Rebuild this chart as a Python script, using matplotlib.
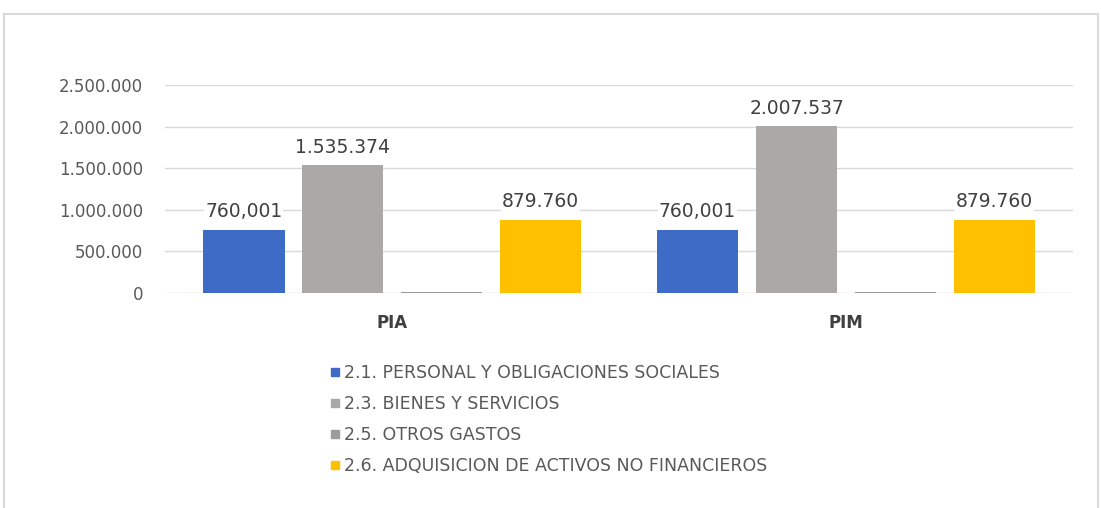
import matplotlib.pyplot as plt
from matplotlib.lines import Line2D
import numpy as np

# Data
categories = ["PIA", "PIM"]
series = ["2.1. PERSONAL Y OBLIGACIONES SOCIALES",
          "2.3. BIENES Y SERVICIOS",
          "2.5. OTROS GASTOS",
          "2.6. ADQUISICION DE ACTIVOS NO FINANCIEROS"]
personal = [760001, 760001]
bienes = [1535374, 2007537]
otros = [15000, 15000]
activos = [879760, 879760]
values = [personal, bienes, otros, activos]
# label texts as printed on the chart (otros gastos has none)
labels = [["760,001", "760,001"],
          ["1.535.374", "2.007.537"],
          ["", ""],
          ["879.760", "879.760"]]
yticks = [0, 500000, 1000000, 1500000, 2000000, 2500000]
ytick_labels = ["0", "500.000", "1.000.000", "1.500.000", "2.000.000", "2.500.000"]

colors = ["#3E6BC6", "#ABA8A5", "#9C9C9C", "#FFC000"]

fig = plt.figure(figsize=(11.01, 5.08), dpi=100)
ax = fig.add_axes([0.150, 0.4232, 0.8246, 0.4095])

x = np.arange(len(categories))
step = 0.218
width = 0.18
for i, vals in enumerate(values):
    pos = x + (i - 1.5) * step
    bars = ax.bar(pos, vals, width, color=colors[i], zorder=3)
    for b, txt in zip(bars, labels[i]):
        if txt:
            ax.annotate(txt, (b.get_x() + b.get_width() / 2, b.get_height()),
                        xytext=(0, 6), textcoords="offset points",
                        ha="center", va="bottom", fontsize=13.5,
                        color="#404040", family="DejaVu Sans", zorder=5,
                        bbox=dict(boxstyle="square,pad=0.05", fc="white", ec="none"))

ax.set_xlim(-0.5, 1.5)
ax.set_ylim(0, 2500000)
ax.set_yticks(yticks)
ax.set_yticklabels(ytick_labels, fontsize=12, color="#595959", family="DejaVu Sans")
ax.set_xticks(x)
ax.set_xticklabels(categories, fontsize=12, fontweight="bold", color="#404040",
                   family="DejaVu Sans")
ax.tick_params(axis="both", length=0)
ax.tick_params(axis="y", pad=16)
ax.tick_params(axis="x", pad=15)
ax.grid(axis="y", color="#D9D9D9", linewidth=1, zorder=0)
for s in ax.spines.values():
    s.set_visible(False)

handles = [Line2D([], [], marker="s", linestyle="none", markersize=6,
                  markerfacecolor=c, markeredgecolor=c) for c in colors]
fig.legend(handles, series, loc="upper left", bbox_to_anchor=(330 / 1101, 1 - 364 / 508),
           frameon=False, handlelength=0.6, handletextpad=0.2, labelspacing=0.75,
           prop={"family": "DejaVu Sans", "size": 12.5}, labelcolor="#595959",
           borderaxespad=0, borderpad=0)

# chart frame
fw, fh = 1101, 508
frame = dict(color="#D9D9D9", linewidth=1.5, transform=fig.transFigure)
fig.add_artist(Line2D([4 / fw, 1098 / fw], [1 - 14 / fh, 1 - 14 / fh], **frame))
fig.add_artist(Line2D([4 / fw, 4 / fw], [0, 1 - 14 / fh], **frame))
fig.add_artist(Line2D([1098 / fw, 1098 / fw], [0, 1 - 14 / fh], **frame))

fig.savefig("out.png", dpi=100)
